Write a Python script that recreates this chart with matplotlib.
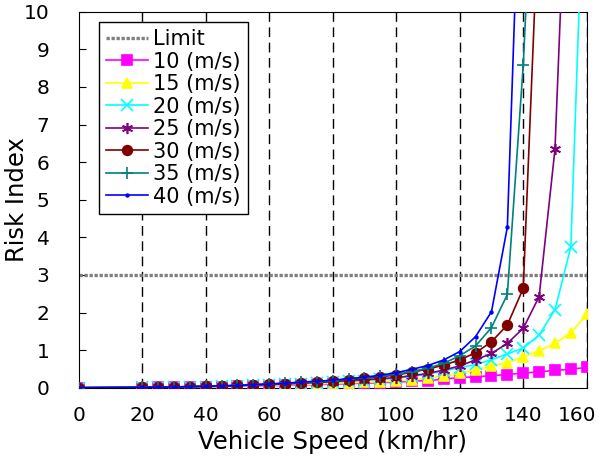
import matplotlib
matplotlib.use('Agg')
import matplotlib.pyplot as plt
from matplotlib.transforms import ScaledTranslation

plt.rcParams['font.family'] = ['DejaVu Sans']

# vehicle speed (km/hr) at the marker points
speed = [0, 20, 25, 30, 35, 40, 45, 50, 55, 60, 65, 70, 75, 80, 85, 90, 95,
         100, 105, 110, 115, 120, 125, 130, 135, 140, 145, 150, 155, 160]

# risk index per wind speed, series stop after leaving the axes
risk_10 = [0, 0.005, 0.01, 0.015, 0.02, 0.025, 0.03, 0.04, 0.05, 0.055, 0.065, 0.075, 0.085, 0.095, 0.11, 0.12, 0.135,
           0.15, 0.17, 0.19, 0.23, 0.27, 0.29, 0.32, 0.35, 0.39, 0.42, 0.46, 0.49, 0.54]
risk_15 = [0, 0.01, 0.01, 0.015, 0.02, 0.03, 0.035, 0.045, 0.055, 0.07, 0.08, 0.09, 0.10, 0.12, 0.13, 0.145, 0.16,
           0.18, 0.21, 0.25, 0.31, 0.38, 0.47, 0.58, 0.67, 0.81, 0.98, 1.18, 1.46, 1.95]
risk_20 = [0, 0.01, 0.015, 0.02, 0.025, 0.03, 0.04, 0.05, 0.065, 0.08, 0.095, 0.11, 0.13, 0.15, 0.17, 0.19, 0.22,
           0.25, 0.30, 0.36, 0.45, 0.53, 0.62, 0.74, 0.90, 1.05, 1.40, 2.07, 3.75, 16.0]
risk_25 = [0, 0.01, 0.015, 0.02, 0.025, 0.035, 0.045, 0.055, 0.07, 0.085, 0.10, 0.12, 0.14, 0.16, 0.19, 0.21, 0.24,
           0.27, 0.32, 0.38, 0.47, 0.58, 0.74, 0.91, 1.18, 1.58, 2.42, 6.34, 17.0]
risk_30 = [0, 0.01, 0.015, 0.02, 0.03, 0.035, 0.045, 0.06, 0.075, 0.09, 0.11, 0.13, 0.155, 0.18, 0.21, 0.25, 0.29,
           0.34, 0.41, 0.50, 0.60, 0.74, 0.93, 1.22, 1.67, 2.64, 13.0]
risk_35 = [0, 0.01, 0.015, 0.02, 0.03, 0.04, 0.05, 0.06, 0.08, 0.10, 0.12, 0.14, 0.16, 0.19, 0.23, 0.27, 0.31,
           0.36, 0.43, 0.52, 0.65, 0.85, 1.11, 1.60, 2.48, 8.58, 17.4]
risk_40 = [0, 0.01, 0.015, 0.02, 0.03, 0.04, 0.05, 0.06, 0.08, 0.10, 0.12, 0.15, 0.17, 0.20, 0.24, 0.28, 0.33,
           0.40, 0.49, 0.59, 0.74, 0.96, 1.36, 2.02, 4.27, 16.7]

limit = 3
labels = ['10 (m/s)', '15 (m/s)', '20 (m/s)', '25 (m/s)', '30 (m/s)', '35 (m/s)', '40 (m/s)']
series = [risk_10, risk_15, risk_20, risk_25, risk_30, risk_35, risk_40]
colors = ['#ff00ff', '#ffff00', '#00ffff', '#800080', '#800000', '#008080', '#0000ff']
markers = ['s', '^', 'x', (6, 2, 0), 'o', '+', '.']
msizes = [7, 7, 8, 8, 7, 9, 4]

fig = plt.figure(figsize=(6.04, 4.70), dpi=100)
ax = fig.add_axes([0.1303, 0.1751, 0.8411, 0.80])

# vertical dashed grid
for xv in range(20, 161, 20):
    ax.axvline(xv, color='black', lw=1, ls=(0, (7, 4)), zorder=1)

ax.axhline(limit, color='0.5', lw=2.4, ls=(0, (1, 0.5)), label='Limit', zorder=2)

for vals, lab, c, m, ms in zip(series, labels, colors, markers, msizes):
    ax.plot(speed[:len(vals)], vals, color=c, marker=m, markersize=ms, lw=1.2,
            markeredgewidth=1.2, label=lab, zorder=3)

ax.set_xlim(0, 160)
ax.set_ylim(0, 10)
ax.set_xticks(range(0, 161, 20))
ax.set_yticks(range(0, 11))
ax.tick_params(direction='in', length=5, labelsize=14.5)
ax.tick_params(axis='x', pad=13)
ax.tick_params(axis='y', pad=21)
ax.set_xlabel('Vehicle Speed (km/hr)', fontsize=17.5, labelpad=4)
ax.set_ylabel('Risk Index', fontsize=17.5)
ax.yaxis.set_label_coords(-0.098, 0.5)

# keep the last x tick label inside the figure
last = ax.get_xticklabels()[-1]
last.set_transform(last.get_transform() + ScaledTranslation(-7 / 72, 0, fig.dpi_scale_trans))

leg = ax.legend(loc='upper left', fontsize=15, frameon=True, fancybox=False,
                edgecolor='black', framealpha=1, handlelength=2.0,
                borderpad=0.35, labelspacing=0.12, handletextpad=0.25,
                borderaxespad=0, bbox_to_anchor=(0.04, 0.973))
leg.get_frame().set_linewidth(1)

fig.savefig('out.png', dpi=100)
